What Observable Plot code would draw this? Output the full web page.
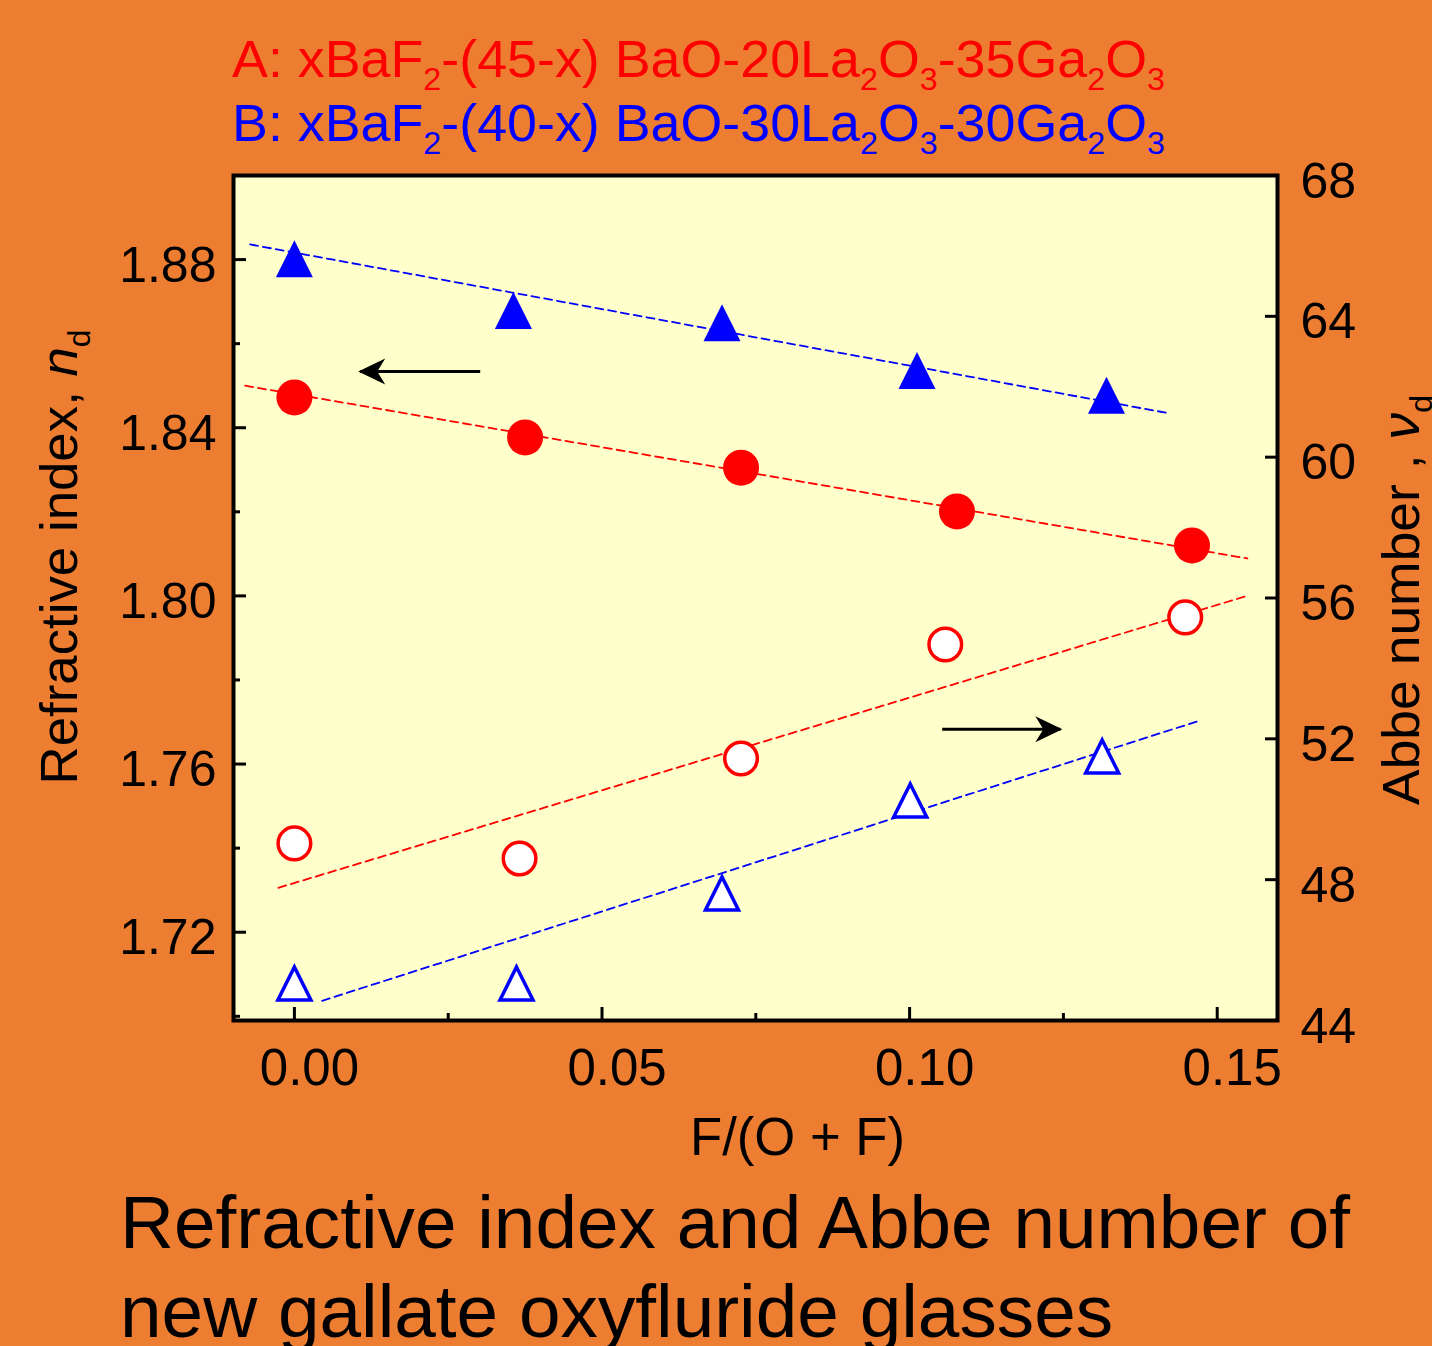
<!DOCTYPE html>
<html>
<head>
<meta charset="utf-8">
<script src="https://cdn.jsdelivr.net/npm/d3@7"></script>
<script src="https://cdn.jsdelivr.net/npm/@observablehq/plot@0.6"></script>
<style>
  html, body { margin: 0; padding: 0; background: #ED7D31; }
  #wrap { position: relative; width: 1432px; height: 1346px; overflow: hidden; background: #ED7D31;
          font-family: "Liberation Sans", Arial, sans-serif; }
  #wrap svg { position: absolute; left: 0; top: 0; }
  .sub { font-size: 0.6em; position: relative; top: 0.42em; }
</style>
</head>
<body>
<div id="wrap"></div>
<script>
// ---------- data ----------
const xTicks = [0, 0.05, 0.10, 0.15];
const xMinor = [0.025, 0.075, 0.125];
const ndTicks = [1.72, 1.76, 1.80, 1.84, 1.88];
const ndMinor = [1.70, 1.74, 1.78, 1.82, 1.86];
const vdTicks = [44, 48, 52, 56, 60, 64, 68];

// A series (red): refractive index (filled circles) and Abbe number (open circles)
const xA_nd = [0, 0.0375, 0.0726, 0.1077, 0.1459];
const ndA   = [1.8472, 1.8377, 1.8305, 1.8201, 1.8120];
const xA_vd = [0, 0.0366, 0.0726, 0.1058, 0.1448];
const vdA   = [49.03, 48.60, 51.44, 54.68, 55.45];
// B series (blue): refractive index (filled triangles) and Abbe number (open triangles)
const xB_nd = [0, 0.0356, 0.0695, 0.1012, 0.1320];
const ndB   = [1.8802, 1.8679, 1.8650, 1.8536, 1.8477];
const xB_vd = [0, 0.0361, 0.0695, 0.1001, 0.1313];
const vdB   = [45.05, 45.05, 47.61, 50.25, 51.50];

// dashed fit lines (end points)
const fitA_nd_x = [-0.0080, 0.1549], fitA_nd_y = [1.8500, 1.8089];
const fitB_nd_x = [-0.0072, 0.1423], fitB_nd_y = [1.8836, 1.8434];
const fitA_vd_x = [-0.0026, 0.1545], fitA_vd_y = [47.77, 56.04];
const fitB_vd_x = [0.0045, 0.1472],  fitB_vd_y = [44.56, 52.52];

// arrows (x1 = tail, x2 = tip, in F/(O+F); y in n_d units)
const arrowX1 = [0.0302, 0.1053];
const arrowX2 = [0.0107, 0.1245];
const arrowY  = [1.8534, 1.7683];

// ---------- scales ----------
const ND_DOMAIN = [1.699, 1.90];
const VD_DOMAIN = [44, 68];
const toLeft = v => ND_DOMAIN[0] + (v - VD_DOMAIN[0]) * (ND_DOMAIN[1] - ND_DOMAIN[0]) / (VD_DOMAIN[1] - VD_DOMAIN[0]);
const fromLeft = y => VD_DOMAIN[0] + (y - ND_DOMAIN[0]) * (VD_DOMAIN[1] - VD_DOMAIN[0]) / (ND_DOMAIN[1] - ND_DOMAIN[0]);

const zip = (xs, ys, f = d => d) => xs.map((x, i) => ({x, y: f(ys[i])}));
const ptsA_nd = zip(xA_nd, ndA);
const ptsB_nd = zip(xB_nd, ndB);
const ptsA_vd = zip(xA_vd, vdA, toLeft);
const ptsB_vd = zip(xB_vd, vdB, toLeft);
const lineA_nd = zip(fitA_nd_x, fitA_nd_y);
const lineB_nd = zip(fitB_nd_x, fitB_nd_y);
const lineA_vd = zip(fitA_vd_x, fitA_vd_y, toLeft);
const lineB_vd = zip(fitB_vd_x, fitB_vd_y, toLeft);
const arrows = arrowX1.map((x1, i) => ({x1, x2: arrowX2[i], y: arrowY[i], rot: arrowX2[i] > x1 ? 0 : 180}));

const triangle = {
  draw(ctx, size) {
    const r = Math.sqrt(size / Math.PI);
    ctx.moveTo(0, -r);
    ctx.lineTo(r, r);
    ctx.lineTo(-r, r);
    ctx.closePath();
  }
};
// notched arrow head, tip at the origin, pointing right
const arrowHead = {
  draw(ctx) {
    ctx.moveTo(2, 0);
    ctx.lineTo(-25, -13);
    ctx.lineTo(-17, 0);
    ctx.lineTo(-25, 13);
    ctx.closePath();
  }
};

const RED = "#FF0000", BLUE = "#0000FF";
const dash = {strokeDasharray: "8,5", strokeWidth: 1.8};

const chart = Plot.plot({
  width: 1432,
  height: 1346,
  marginLeft: 233,
  marginRight: 155,
  marginTop: 175,
  marginBottom: 326,
  style: {background: "transparent", fontFamily: "'Liberation Sans', Arial, sans-serif", fontSize: "50px", color: "black", overflow: "visible"},
  x: {domain: [-0.0099, 0.1598], axis: null},
  y: {domain: ND_DOMAIN, axis: null},
  marks: [
    Plot.frame({fill: "#FFFFCC"}),
    Plot.line(lineA_nd, {x: "x", y: "y", stroke: RED, ...dash}),
    Plot.line(lineB_nd, {x: "x", y: "y", stroke: BLUE, ...dash}),
    Plot.line(lineA_vd, {x: "x", y: "y", stroke: RED, ...dash}),
    Plot.line(lineB_vd, {x: "x", y: "y", stroke: BLUE, ...dash}),
    Plot.dot(ptsA_nd, {x: "x", y: "y", r: 18, fill: RED}),
    Plot.dot(ptsB_nd, {x: "x", y: "y", r: 18.5, symbol: triangle, fill: BLUE}),
    Plot.dot(ptsA_vd, {x: "x", y: "y", r: 16.3, fill: "white", stroke: RED, strokeWidth: 3.5}),
    Plot.dot(ptsB_vd, {x: "x", y: "y", r: 16.5, symbol: triangle, fill: "white", stroke: BLUE, strokeWidth: 3.5}),
    Plot.link(arrows, {x1: "x1", x2: "x2", y1: "y", y2: "y", stroke: "black", strokeWidth: 3}),
    Plot.dot(arrows, {x: "x2", y: "y", symbol: arrowHead, rotate: "rot", fill: "black", stroke: null, r: 10}),
    // x axis
    Plot.axisX(xTicks, {anchor: "bottom", tickSize: 0, tickPadding: 28, dx: 15, tickFormat: d3.format(".2f"), fontSize: 51, label: null}),
    Plot.axisX(xTicks, {anchor: "bottom", tickSize: 13, dy: -13, text: null, strokeWidth: 3, label: null}),
    Plot.axisX(xMinor, {anchor: "bottom", tickSize: 7, dy: -7, text: null, strokeWidth: 3, label: null}),
    // left axis (n_d)
    Plot.axisY(ndTicks, {anchor: "left", tickSize: 0, tickPadding: 17, dy: 6, tickFormat: d3.format(".2f"), fontSize: 50, label: null}),
    Plot.axisY(ndTicks, {anchor: "left", tickSize: 13, dx: 13, text: null, strokeWidth: 3, label: null}),
    Plot.axisY(ndMinor, {anchor: "left", tickSize: 7, dx: 7, text: null, strokeWidth: 3, label: null}),
    // right axis (v_d)
    Plot.axisY(vdTicks.map(toLeft), {anchor: "right", tickSize: 0, tickPadding: 23, dy: 6, tickFormat: d => String(Math.round(fromLeft(d))), fontSize: 50, label: null}),
    Plot.axisY(vdTicks.slice(1, -1).map(toLeft), {anchor: "right", tickSize: 13, dx: -13, text: null, strokeWidth: 3, label: null}),
    Plot.frame({stroke: "black", strokeWidth: 4})
  ]
});

const wrap = document.getElementById("wrap");
wrap.appendChild(chart);

function hText(html, {left, baseline, size, color = "black", width, anchor = "start", scale}) {
  const el = document.createElement("div");
  el.style.cssText = `position:absolute;left:0;top:0;font-size:${size}px;line-height:1;white-space:nowrap;color:${color};`;
  el.innerHTML = `<span style="display:inline-block;width:0;height:0"></span>` + html;
  wrap.appendChild(el);
  const r = el.getBoundingClientRect();
  const b = el.firstChild.getBoundingClientRect().top - r.top;
  const w = r.width;
  const k = scale != null ? scale : (width ? width / w : 1);
  const x = anchor === "middle" ? left - w * k / 2 : left;
  el.style.left = x + "px";
  el.style.top = (baseline - b) + "px";
  el.style.transformOrigin = "0 0";
  el.style.transform = `scaleX(${k})`;
  return k;
}

function vText(html, {cx, cy, size, length, color = "black"}) {
  const el = document.createElement("div");
  el.style.cssText = `position:absolute;left:0;top:0;font-size:${size}px;line-height:1;white-space:nowrap;color:${color};`;
  el.innerHTML = html;
  wrap.appendChild(el);
  const r = el.getBoundingClientRect();
  const k = length / r.width;
  el.style.left = (cx - r.width / 2) + "px";
  el.style.top = (cy - r.height / 2) + "px";
  el.style.transformOrigin = "50% 50%";
  el.style.transform = `rotate(-90deg) scaleX(${k})`;
}

const S = t => `<span class="sub">${t}</span>`;
// legend
hText(`A: xBaF${S(2)}-(45-x) BaO-20La${S(2)}O${S(3)}-35Ga${S(2)}O${S(3)}`, {left: 232, baseline: 77, size: 51, color: RED, width: 933});
hText(`B: xBaF${S(2)}-(40-x) BaO-30La${S(2)}O${S(3)}-30Ga${S(2)}O${S(3)}`, {left: 232, baseline: 141, size: 51, color: BLUE, width: 933});
// x axis label
hText(`F/(O + F)`, {left: 797, baseline: 1155, size: 54, width: 215, anchor: "middle"});
// y axis labels
vText(`Refractive index, <i>n</i>${S("d")}`, {cx: 59, cy: 557, size: 52, length: 455});
vText(`Abbe number , <i>ν</i>${S("d")}`, {cx: 1401, cy: 600, size: 52, length: 410});
// caption
const k = hText(`Refractive index and Abbe number of`, {left: 120, baseline: 1248, size: 74, width: 1230});
hText(`new gallate oxyfluride glasses`, {left: 120, baseline: 1337, size: 74, scale: k});
</script>
</body>
</html>
